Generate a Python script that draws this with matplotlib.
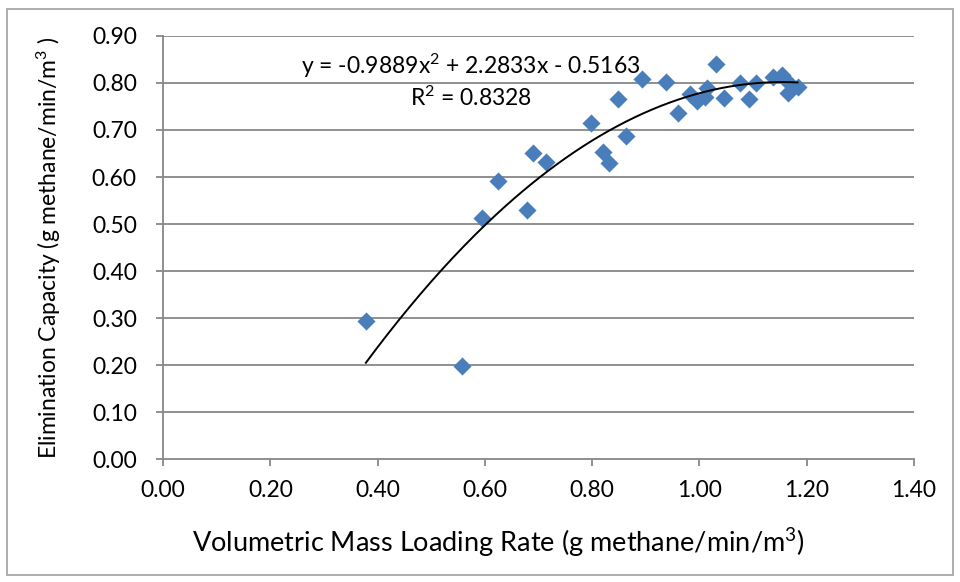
import matplotlib.pyplot as plt
import numpy as np
from matplotlib.patches import Rectangle

# volumetric mass loading rate (x) and elimination capacity (y)
carga = [0.378, 0.558, 0.594, 0.625, 0.678, 0.689, 0.713, 0.798, 0.821, 0.832,
         0.849, 0.863, 0.893, 0.937, 0.960, 0.982, 0.996, 1.010, 1.014, 1.030,
         1.045, 1.076, 1.093, 1.106, 1.137, 1.154, 1.163, 1.166, 1.183]
capacidad = [0.294, 0.199, 0.513, 0.592, 0.529, 0.651, 0.631, 0.714, 0.654, 0.629,
             0.765, 0.687, 0.808, 0.801, 0.735, 0.777, 0.762, 0.770, 0.789, 0.840,
             0.768, 0.799, 0.765, 0.799, 0.812, 0.817, 0.803, 0.778, 0.792]

# polynomial trendline as reported on the chart
coef = [-0.9889, 2.2833, -0.5163]
r2 = 0.8328

x_ticks = [0.0, 0.2, 0.4, 0.6, 0.8, 1.0, 1.2, 1.4]
y_ticks = [0.0, 0.1, 0.2, 0.3, 0.4, 0.5, 0.6, 0.7, 0.8, 0.9]

plt.rcParams['font.family'] = ['Lato', 'DejaVu Sans']
plt.rcParams['mathtext.fontset'] = 'custom'
plt.rcParams['mathtext.rm'] = 'Lato'
plt.rcParams['mathtext.it'] = 'Lato'
plt.rcParams['mathtext.default'] = 'regular'

fig = plt.figure(figsize=(9.6, 5.82), dpi=100)
ax = fig.add_axes([0.170, 0.2105, 0.782, 0.728])

gris = '#878787'
for v in y_ticks[1:]:
    ax.axhline(v, color=gris, lw=1.3, zorder=1)

ax.scatter(carga, capacidad, marker='D', s=85, color='#4A7EBB', zorder=3, linewidths=0)

xs = np.linspace(min(carga), max(carga), 200)
ax.plot(xs, np.polyval(coef, xs), color='black', lw=1.4, zorder=4)

ax.set_xlim(0, 1.4)
ax.set_ylim(0, 0.9)
ax.set_xticks(x_ticks)
ax.set_yticks(y_ticks)
ax.set_xticklabels(['%.2f' % t for t in x_ticks])
ax.set_yticklabels(['%.2f' % t for t in y_ticks])
ax.tick_params(axis='both', direction='out', length=5, width=1.3, color=gris,
               labelsize=16.5)
ax.tick_params(axis='y', pad=14)
ax.tick_params(axis='x', pad=10)

for lado in ['top', 'right']:
    ax.spines[lado].set_visible(False)
for lado in ['left', 'bottom']:
    ax.spines[lado].set_color(gris)
    ax.spines[lado].set_linewidth(1.3)

ax.set_xlabel('Volumetric Mass Loading Rate (g methane/min/m$^{3}$)', fontsize=19.5)
ax.xaxis.set_label_coords(0.447, -0.158)
ax.set_ylabel('Elimination Capacity (g methane/min/m$^{3}$ )', fontsize=16.5)
ax.yaxis.set_label_coords(-0.133, 0.5)

ax.text(0.574, 0.836, 'y = %.4fx$^{2}$ + %.4fx - %.4f' % (coef[0], coef[1], -coef[2]),
        fontsize=16.5, ha='center', va='center')
ax.text(0.574, 0.768, 'R$^{2}$ = %.4f' % r2, fontsize=16.5, ha='center', va='center')

fig.patches.append(Rectangle((0.007, 0.012), 0.986, 0.973, transform=fig.transFigure,
                             fill=False, edgecolor='#A0A0A0', lw=1.2))

fig.savefig('out.png', dpi=100)
